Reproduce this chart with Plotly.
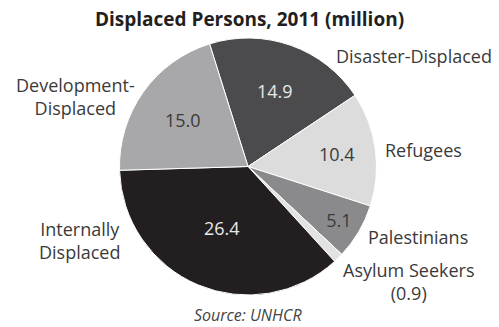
import plotly.graph_objects as go

categories = ["Disaster-Displaced", "Refugees", "Palestinians", "Asylum Seekers",
              "Internally Displaced", "Development-Displaced"]
values = [14.9, 10.4, 5.1, 0.9, 26.4, 15.0]
outside_labels = ["Disaster-Displaced", "Refugees", "Palestinians", "Asylum Seekers<br>(0.9)",
                  "Internally<br>Displaced", "Development-<br>Displaced"]
colors = ["#4b4b4d", "#dcdcdd", "#8a8a8c", "#e2e2e3", "#231f20", "#a8a8aa"]
text_colors = ["#e8e8e8", "#3a3a3a", "#3a3a3a", "#3a3a3a", "#e8e8e8", "#3a3a3a"]
texts = ["%.1f" % v if v >= 2 else "" for v in values]

W, H = 499, 327
cx, cy, r = 248, 166.5, 128.5

fig = go.Figure(go.Pie(
    labels=categories, values=values, sort=False, direction="clockwise",
    rotation=-17.4,
    marker=dict(colors=colors, line=dict(color="white", width=1)),
    text=texts, textinfo="text", textposition="inside",
    insidetextorientation="horizontal",
    insidetextfont=dict(family="Open Sans", size=18, color=text_colors),
    domain=dict(x=[(cx - r) / W, (cx + r) / W], y=[(H - cy - r) / H, (H - cy + r) / H]),
    showlegend=False, hoverinfo="none",
))

# outside label block centres (pixels)
label_pos = [(414, 56), (423, 150), (418, 237), (408, 281), (79, 240), (75, 97)]
annotations = []
for lab, (px, py) in zip(outside_labels, label_pos):
    annotations.append(dict(x=px / W, y=1 - py / H, xref="paper", yref="paper",
                            text=lab, showarrow=False, xanchor="center", yanchor="middle",
                            align="center", borderpad=0,
                            font=dict(family="Open Sans", size=18, color="#3a3a3a")))
annotations.append(dict(x=248 / W, y=0, xref="paper", yref="paper",
                        text="<i>Source: UNHCR</i>", showarrow=False,
                        xanchor="center", yanchor="bottom", borderpad=0,
                        font=dict(family="Open Sans", size=16, color="#444444")))

fig.update_layout(
    width=W, height=H, margin=dict(l=0, r=0, t=0, b=0),
    paper_bgcolor="white", plot_bgcolor="white",
    title=dict(text="<b>Displaced Persons, 2011 (million)</b>", x=0.5, xanchor="center",
               y=1 - 19.5 / H, yanchor="middle",
               font=dict(family="Open Sans", size=19, color="#231f20")),
    uniformtext=dict(minsize=18, mode="show"),
    annotations=annotations,
)

fig.write_html("out.html")
